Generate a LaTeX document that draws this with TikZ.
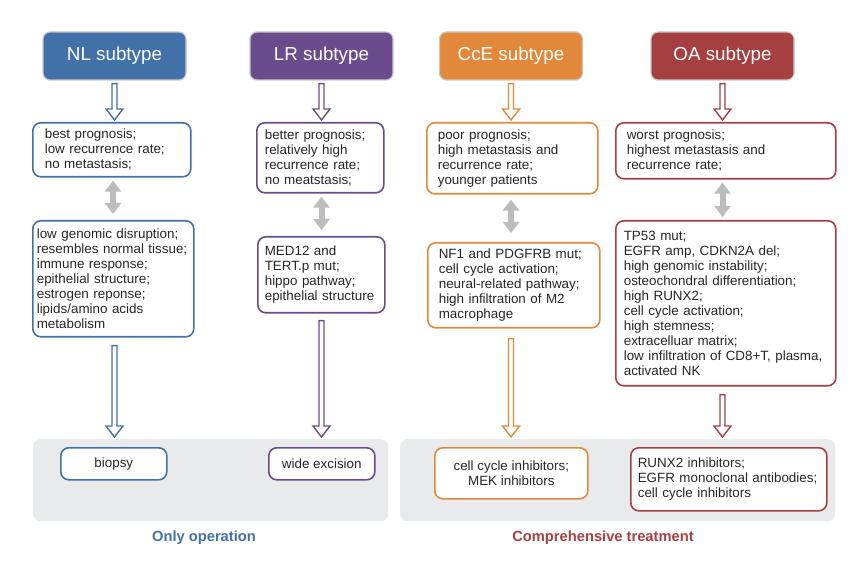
\documentclass[tikz,border=0pt]{standalone}
\usepackage{fontspec}
\setmainfont{Liberation Sans}
\usetikzlibrary{calc,arrows.meta}

\definecolor{nlblue}{RGB}{66,112,168}
\definecolor{lrpurple}{RGB}{106,76,140}
\definecolor{cceorange}{RGB}{225,136,58}
\definecolor{oared}{RGB}{166,63,63}
\definecolor{bandgray}{RGB}{233,234,236}
\definecolor{linkgray}{RGB}{188,188,188}

% hollow block arrow: colour, gap below start, start, end
\newcommand{\hollowdown}[4]{%
	\draw [#1, line width=1.4, fill=white, line join=miter] ($#3+(-2.5,#2)$) -- ($#4+(-2.5,-13)$) -- ($#4+(-8.5,-13)$) -- ($#4+(0,-2)$) -- ($#4+(8.5,-13)$) -- ($#4+(2.5,-13)$) -- ($#3+(2.5,#2)$) -- cycle ;
}

\begin{document}
\begin{tikzpicture}[x=1pt,y=1pt,yscale=-1,
	title/.style={fill=#1, draw=black!22, line width=1.2, rounded corners=7, minimum width=143, minimum height=48, text=white, font=\fontsize{18.8}{22}\selectfont},
	info/.style={draw=#1, line width=1.6, rounded corners=8, fill=white, anchor=north west, align=left, text=black!85, font=\fontsize{13.4}{15}\selectfont},
	care/.style={draw=#1, line width=1.6, rounded corners=8, fill=white, anchor=north west, text=black!85, font=\fontsize{13.4}{15}\selectfont},
	band/.style={fill=bandgray, rounded corners=7, anchor=north west, inner sep=0},
	note/.style={text=#1, font=\fontsize{14.7}{17}\selectfont\bfseries},
	link/.style={draw=linkgray, line width=6, {Triangle[length=11pt,width=16pt]}-{Triangle[length=11pt,width=16pt]}}]
	\useasboundingbox (0,0) rectangle (860,561);
	
	% Bands
	\node (opband) [band, minimum width=355, minimum height=82] at (33,439) {};
	\node (ctband) [band, minimum width=435, minimum height=82] at (400,439) {};
	
	% Subtype titles
	\node (nltitle) [title=nlblue] at (114.5,56) {NL subtype};
	\node (lrtitle) [title=lrpurple] at (321.5,56) {LR subtype};
	\node (ccetitle) [title=cceorange] at (511,56) {CcE subtype};
	\node (oatitle) [title=oared] at (722.5,56) {OA subtype};
	
	% Prognosis boxes
	\node (nl1) [info=nlblue, text width=134, inner xsep=12, minimum height=54] at (32,122) {best prognosis;\\low recurrence rate;\\no metastasis;};
	\node (lr1) [info=lrpurple, text width=111, inner xsep=8, minimum height=70] at (256,122) {better prognosis;\\relatively high\\recurrence rate;\\no meatstasis;};
	\node (cce1) [info=cceorange, text width=149, inner xsep=11, minimum height=71] at (426,122) {poor prognosis;\\high metastasis and\\recurrence rate;\\younger patients};
	\node (oa1) [info=oared, text width=198, inner xsep=11, minimum height=56] at (615,122) {worst prognosis;\\highest metastasis and\\recurrence rate;};
	
	% Molecular boxes
	\node (nl2) [info=nlblue, text width=153, inner xsep=4, minimum height=116] at (32,220) {low genomic disruption;\\resembles normal tissue;\\immune response;\\epithelial structure;\\estrogen reponse;\\lipids/amino acids\\metabolism};
	\node (lr2) [info=lrpurple, text width=113, inner xsep=7, minimum height=76] at (257,236) {MED12 and\\TERT.p mut;\\hippo pathway;\\epithelial structure};
	\node (cce2) [info=cceorange, text width=150, inner xsep=11, minimum height=85] at (427,242) {NF1 and PDGFRB mut;\\cell cycle activation;\\neural-related pathway;\\high infiltration of M2\\macrophage};
	\node (oa2) [info=oared, text width=204, inner xsep=8, minimum height=165] at (615,220) {TP53 mut;\\EGFR amp, CDKN2A del;\\high genomic instability;\\osteochondral differentiation;\\high RUNX2;\\cell cycle activation;\\high stemness;\\extracelluar matrix;\\low infiltration of CD8+T, plasma,\\activated NK};
	
	% Treatment boxes
	\node (nlcare) [care=nlblue, minimum width=106, minimum height=32] at (60,447) {biopsy};
	\node (lrcare) [care=lrpurple, minimum width=106, minimum height=32] at (268,447) {wide excision};
	\node (ccecare) [care=cceorange, align=center, minimum width=153, minimum height=51] at (434,447) {cell cycle inhibitors;\\MEK inhibitors};
	\node (oacare) [care=oared, align=left, text width=182, inner xsep=7, minimum height=63] at (630,447) {RUNX2 inhibitors;\\EGFR monoclonal antibodies;\\cell cycle inhibitors};
	
	% Band labels
	\node (opnote) [note=nlblue] at (204,538) {Only operation};
	\node (ctnote) [note=oared] at (603,538) {Comprehensive treatment};
	
	% Title arrows
	\hollowdown{nlblue}{3}{(nltitle.south)}{(nltitle.south |- nl1.north)}
	\hollowdown{lrpurple}{3}{(lrtitle.south)}{(lrtitle.south |- lr1.north)}
	\hollowdown{cceorange}{3}{(ccetitle.south)}{(ccetitle.south |- cce1.north)}
	\hollowdown{oared}{3}{(oatitle.south)}{(oatitle.south |- oa1.north)}
	
	% Double arrows
	\draw [link] ($(nltitle |- nl1.south)+(-1.5,3)$) -- ($(nltitle |- nl2.north)+(-1.5,-6)$);
	\draw [link] ($(lrtitle |- lr1.south)+(0,3)$) -- ($(lrtitle |- lr2.north)+(0,-6)$);
	\draw [link] ($(ccetitle |- cce1.south)+(0,5)$) -- ($(ccetitle |- cce2.north)+(0,-9)$);
	\draw [link] ($(oatitle |- oa1.south)+(0,3)$) -- ($(oatitle |- oa2.north)+(0,-3)$);
	
	% Treatment arrows
	\hollowdown{nlblue}{8}{(nltitle |- nl2.south)}{(nltitle |- opband.north)}
	\hollowdown{lrpurple}{7}{(lrtitle |- lr2.south)}{(lrtitle |- opband.north)}
	\hollowdown{cceorange}{10}{(ccetitle |- cce2.south)}{(ccetitle |- ctband.north)}
	\hollowdown{oared}{8}{(oatitle |- oa2.south)}{(oatitle |- ctband.north)}
\end{tikzpicture}
\end{document}
